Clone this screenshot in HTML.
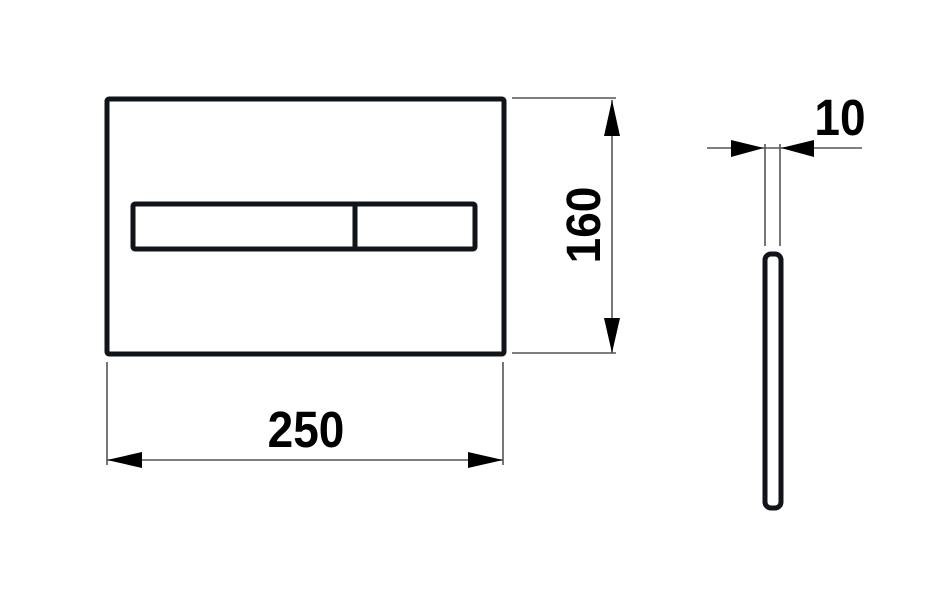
<!DOCTYPE html>
<html><head><style>html,body{margin:0;padding:0;background:#fff}svg{display:block}</style></head>
<body>
<svg width="950" height="600" viewBox="0 0 950 600" xmlns="http://www.w3.org/2000/svg">
<g fill="none" stroke="#111418" stroke-width="5" stroke-linejoin="round">
<rect x="107" y="99" width="397" height="255" rx="2"/>
<rect x="133" y="204" width="342" height="45" rx="2"/>
<line x1="355" y1="204" x2="355" y2="249"/>
<rect x="765" y="254" width="16" height="254" rx="6"/>
</g>
<g stroke="#555" stroke-width="1.6">
<line x1="512" y1="98" x2="616" y2="98"/>
<line x1="512" y1="353" x2="616" y2="353"/>
<line x1="612" y1="100" x2="612" y2="353"/>
<line x1="107" y1="362" x2="107" y2="465"/>
<line x1="503" y1="362" x2="503" y2="465"/>
<line x1="107" y1="460" x2="503" y2="460"/>
<line x1="707" y1="148" x2="862" y2="148"/>
<line x1="765" y1="144" x2="765" y2="246"/>
<line x1="780" y1="144" x2="780" y2="246"/>
</g>
<g fill="#000">
<polygon points="612,100 604,136 620,136"/>
<polygon points="612,353 604,318 620,318"/>
<polygon points="107,460 142,452 142,468"/>
<polygon points="503,460 468,452 468,468"/>
<polygon points="764,148 731,140 731,157"/>
<polygon points="781,148 814,140 814,157"/>
</g>
<g font-family="Liberation Sans, sans-serif" font-weight="bold" font-size="46" fill="#000">
<text transform="translate(306,447) scale(1,1.1)" text-anchor="middle">250</text>
<text transform="translate(840,135) scale(1,1.1)" text-anchor="middle">10</text>
<text transform="translate(600,225) rotate(-90) scale(1,1.05)" text-anchor="middle">160</text>
</g>
</svg>
</body></html>
